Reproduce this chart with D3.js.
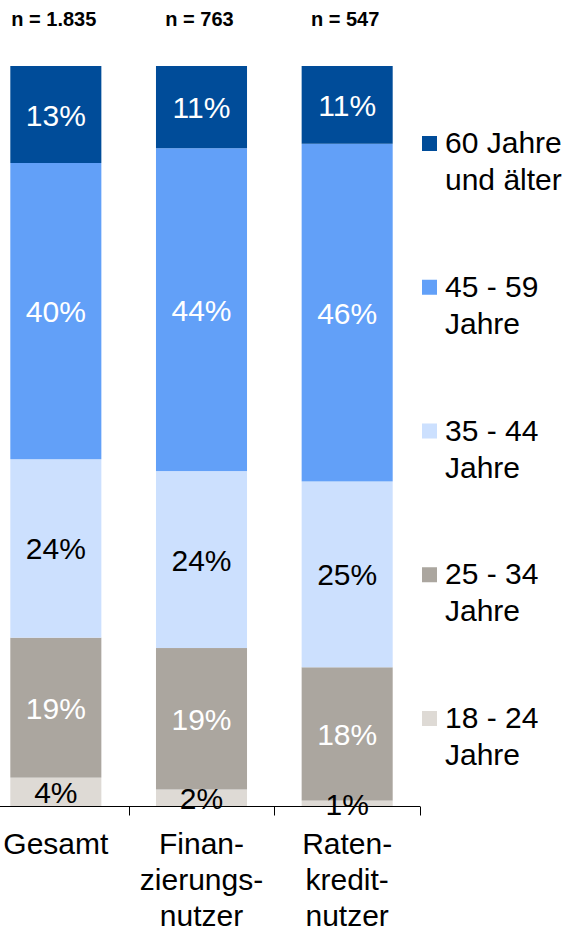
<!DOCTYPE html>
<html>
<head>
<meta charset="utf-8">
<script src="https://cdn.jsdelivr.net/npm/d3@7"></script>
<style>
  body { margin: 0; background: #fff; }
  svg { display: block; font-family: Arial, "Liberation Sans", sans-serif; }
</style>
</head>
<body>
<div id="chart"></div>
<script>
// Daten
var categories = ["Gesamt", "Finanzierungsnutzer", "Ratenkreditnutzer"];
var categoryLines = [["Gesamt"], ["Finan-", "zierungs-", "nutzer"], ["Raten-", "kredit-", "nutzer"]];
var sampleSizes = ["n = 1.835", "n = 763", "n = 547"];
// Reihen von unten nach oben
var seriesNames = ["18 - 24 Jahre", "25 - 34 Jahre", "35 - 44 Jahre", "45 - 59 Jahre", "60 Jahre und älter"];
var legendLines = [["18 - 24", "Jahre"], ["25 - 34", "Jahre"], ["35 - 44", "Jahre"], ["45 - 59", "Jahre"], ["60 Jahre", "und älter"]];
var age18_24 = [3.9, 2.3, 0.8];
var age25_34 = [18.9, 19.1, 18.0];
var age35_44 = [24.1, 23.9, 25.1];
var age45_59 = [40.0, 43.6, 45.6];
var age60plus = [13.1, 11.1, 10.5];
var seriesValues = [age18_24, age25_34, age35_44, age45_59, age60plus];

var colors = ["#dedad5", "#aba69f", "#cce0fe", "#62a0f8", "#004c99"];
var labelColors = ["#000", "#fff", "#000", "#fff", "#fff"];

var W = 573, H = 932;
var svg = d3.select("#chart").append("svg").attr("width", W).attr("height", H);

// Skalen
var x = d3.scaleBand().domain(categories).range([-17, 420]).padding(0);
var barW = x.bandwidth() * 0.625;
var y = d3.scaleLinear().domain([0, 100]).range([806.5, 66]);

// gestapelte Daten
var rows = categories.map(function (c, i) {
  var r = { cat: c };
  seriesNames.forEach(function (s, j) { r[s] = seriesValues[j][i]; });
  return r;
});
var stack = d3.stack().keys(seriesNames)(rows);

var layers = svg.selectAll(".layer")
  .data(stack)
  .enter()
  .append("g")
  .attr("class", "layer")
  .attr("fill", function (d, i) { return colors[i]; });

layers.selectAll("rect")
  .data(function (d) { return d; })
  .enter()
  .append("rect")
  .attr("x", function (d) { return x(d.data.cat) + (x.bandwidth() - barW) / 2; })
  .attr("y", function (d) { return y(d[1]); })
  .attr("width", barW)
  .attr("height", function (d) { return y(d[0]) - y(d[1]); });

// x-Achse
var axis = svg.append("g").attr("transform", "translate(0,806.5)");
axis.append("line")
  .attr("x1", 0).attr("x2", x.range()[1])
  .attr("stroke", "#000").attr("stroke-width", 1);
axis.selectAll(".tick")
  .data(categories)
  .enter()
  .append("line")
  .attr("x1", function (d) { return Math.round(x(d) + x.bandwidth()) + 0.5; })
  .attr("x2", function (d) { return Math.round(x(d) + x.bandwidth()) + 0.5; })
  .attr("y1", 0).attr("y2", 9)
  .attr("stroke", "#000");

// Werte (über Balken und Achse)
var labels = svg.append("g");
stack.forEach(function (layer, j) {
  labels.selectAll(null)
    .data(layer)
    .enter()
    .append("text")
    .attr("x", function (d) { return x(d.data.cat) + x.bandwidth() / 2; })
    .attr("y", function (d) { return (y(d[0]) + y(d[1])) / 2 + 11; })
    .attr("text-anchor", "middle")
    .style("font-size", "30px")
    .attr("fill", labelColors[j])
    .text(function (d) { return Math.round(d[1] - d[0]) + "%"; });
});

// n = ...
svg.selectAll(".nlabel")
  .data(categories)
  .enter()
  .append("text")
  .attr("x", function (d) { return x(d) + x.bandwidth() / 2 - 2; })
  .attr("y", 26)
  .attr("text-anchor", "middle")
  .style("font-size", "20px")
  .style("font-weight", "bold")
  .text(function (d, i) { return sampleSizes[i]; });

// Kategorienbeschriftung
categories.forEach(function (c, i) {
  var t = svg.append("text")
    .attr("text-anchor", "middle")
    .style("font-size", "30px");
  categoryLines[i].forEach(function (line, k) {
    t.append("tspan")
      .attr("x", x(c) + x.bandwidth() / 2)
      .attr("y", 854 + k * 36)
      .text(line);
  });
});

// Legende (oben: 60+)
var legendOrder = d3.range(seriesNames.length).reverse();
legendOrder.forEach(function (j, k) {
  var base = 153 + k * 143.75;
  svg.append("rect")
    .attr("x", 422).attr("y", base - 17)
    .attr("width", 15).attr("height", 15)
    .attr("fill", colors[j]);
  var t = svg.append("text").style("font-size", "30px");
  legendLines[j].forEach(function (line, m) {
    t.append("tspan").attr("x", 445).attr("y", base + m * 37).text(line);
  });
});
</script>
</body>
</html>
